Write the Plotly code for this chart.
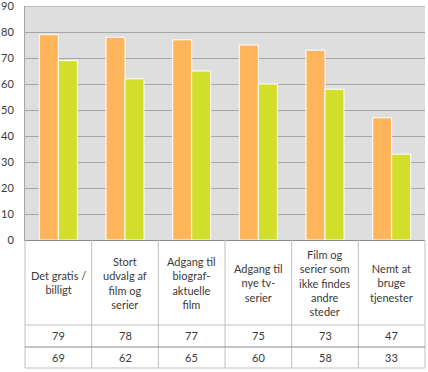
import plotly.graph_objects as go

categories = ["Det gratis /<br>billigt", "Stort<br>udvalg af<br>film og<br>serier",
              "Adgang til<br>biograf-<br>aktuelle<br>film", "Adgang til<br>nye tv-<br>serier",
              "Film og<br>serier som<br>ikke findes<br>andre<br>steder", "Nemt at<br>bruge<br>tjenester"]
series_a = [79, 78, 77, 75, 73, 47]
series_b = [69, 62, 65, 60, 58, 33]
y_ticks = [0, 10, 20, 30, 40, 50, 60, 70, 80, 90]

W, H = 428, 372
L, R, T, B = 25, 3, 6, 132
plot_h = H - T - B

def py(pix):
    return (H - B - pix) / plot_h

FONT = "Lato"
TXT = "#3a3a3a"

x = list(range(len(categories)))
fig = go.Figure()
fig.add_trace(go.Bar(x=x, y=series_a, marker=dict(color="#FFB55B", line=dict(color="white", width=1)), showlegend=False))
fig.add_trace(go.Bar(x=x, y=series_b, marker=dict(color="#D1DF2A", line=dict(color="white", width=1)), showlegend=False))

n = len(categories)
shapes = []
for k in range(n + 1):
    shapes.append(dict(type="line", xref="paper", yref="paper", x0=k / n, x1=k / n,
                       y0=0, y1=py(368), line=dict(color="#BFBFBF", width=1)))
shapes.append(dict(type="line", xref="paper", yref="paper", x0=0, x1=1, y0=py(325), y1=py(325),
                   line=dict(color="#BFBFBF", width=1)))
shapes.append(dict(type="line", xref="paper", yref="paper", x0=0, x1=1, y0=py(347), y1=py(347),
                   line=dict(color="#8C8C8C", width=1)))
shapes.append(dict(type="line", xref="paper", yref="paper", x0=0, x1=1, y0=py(368), y1=py(368),
                   line=dict(color="#BFBFBF", width=1)))
shapes.append(dict(type="line", xref="paper", yref="y", x0=0, x1=1, y0=y_ticks[-1], y1=y_ticks[-1],
                   line=dict(color="#A6A6A6", width=1)))

annotations = []
for i in range(n):
    xc = (i + 0.5) / n
    annotations.append(dict(x=xc, y=py(282.5), xref="paper", yref="paper", text=categories[i],
                            showarrow=False, font=dict(family=FONT, size=11, color=TXT),
                            xanchor="center", yanchor="middle", align="center"))
    annotations.append(dict(x=xc, y=py(336), xref="paper", yref="paper", text=str(series_a[i]),
                            showarrow=False, font=dict(family=FONT, size=11, color=TXT),
                            xanchor="center", yanchor="middle"))
    annotations.append(dict(x=xc, y=py(357.5), xref="paper", yref="paper", text=str(series_b[i]),
                            showarrow=False, font=dict(family=FONT, size=11, color=TXT),
                            xanchor="center", yanchor="middle"))

fig.update_layout(
    width=W, height=H,
    margin=dict(l=L, r=R, t=T, b=B, autoexpand=False),
    paper_bgcolor="white", plot_bgcolor="#DEDEDE",
    barmode="group", bargap=0.43, bargroupgap=0,
    shapes=shapes, annotations=annotations,
    font=dict(family=FONT, size=11, color=TXT),
    xaxis=dict(range=[-0.5, n - 0.5], showticklabels=False, showgrid=False, zeroline=False,
               showline=True, linecolor="#8C8C8C", linewidth=1, fixedrange=True, automargin=False),
    yaxis=dict(range=[0, 90], tickvals=y_ticks, ticktext=[str(v) for v in y_ticks],
               showgrid=True, gridcolor="#A6A6A6", gridwidth=1,
               zeroline=False, showline=True, linecolor="#A6A6A6", linewidth=1, automargin=False,
               ticklabeloverflow="allow",
               ticklabelstandoff=8, tickfont=dict(family=FONT, size=11, color=TXT)),
)
fig.write_html("out.html", config={"displayModeBar": False},
               post_script="document.body.style.margin='0';document.body.style.overflow='hidden';")
